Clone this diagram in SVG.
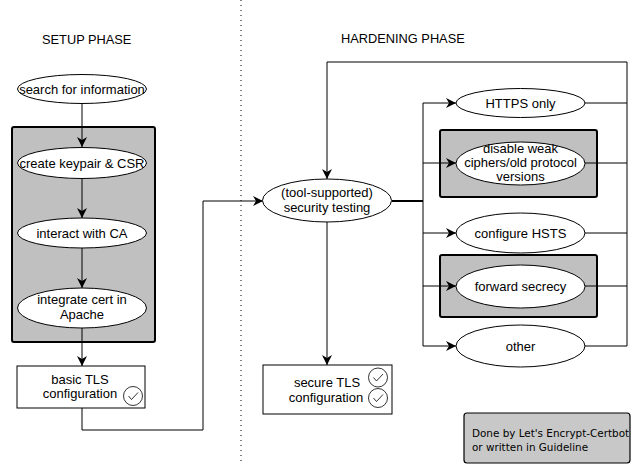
<svg xmlns="http://www.w3.org/2000/svg" width="632" height="465" viewBox="0 0 632 465">
<style>
text{font-family:"Liberation Sans",Arial,sans-serif;font-size:13px;fill:#000;text-anchor:middle}
.hdr{font-size:12.8px;text-anchor:start}
.leg{font-family:"DejaVu Sans",sans-serif;font-size:10.4px;text-anchor:start}
.ell{fill:#fff;stroke:#000;stroke-width:1}
.grp{fill:#c0c0c0;stroke:#000;stroke-width:2}
.box{fill:#fff;stroke:#000;stroke-width:1}
.chk{fill:#fff;stroke:#000;stroke-width:0.8}
.tick{fill:none;stroke:#000;stroke-width:0.8}
.c{fill:none;stroke:#000;stroke-width:1}
.c2{fill:none;stroke:#000;stroke-width:2}
.arr{marker-end:url(#ah)}
</style>
<defs>
<marker id="ah" viewBox="0 0 10 10" refX="10" refY="5" markerWidth="10" markerHeight="10" markerUnits="userSpaceOnUse" orient="auto">
<path d="M0,0 L10,5 L0,10 L3,5 Z" fill="#000"/>
</marker>
</defs>
<rect width="632" height="465" fill="#fff"/>
<line x1="241" y1="0" x2="241" y2="465" stroke="#000" stroke-width="1" stroke-dasharray="1,4"/>
<text class="hdr" x="42" y="44">SETUP PHASE</text>
<text class="hdr" x="341" y="43">HARDENING PHASE</text>

<g id="setup-group"><rect class="grp" x="12" y="127" width="143" height="215" rx="2"/></g>
<g id="disable-group"><rect class="grp" x="440" y="130" width="157" height="67" rx="2"/></g>
<g id="fs-group"><rect class="grp" x="440" y="255" width="157" height="62" rx="2"/></g>

<g id="connectors">
<path class="c arr" d="M82,103 V147"/>
<path class="c arr" d="M82,178 V218"/>
<path class="c arr" d="M82,248 V288"/>
<path class="c arr" d="M82,328 V366"/>
<path class="c arr" d="M82,408 V430 H203 V201 H263"/>
<path class="c arr" d="M627,346 V62 H327 V179"/>
<path class="c arr" d="M327,222 V365"/>
<path class="c2" d="M392,201 H423"/>
<path class="c" d="M423,103 V346"/>
<path class="c arr" d="M423,103 H456"/>
<path class="c arr" d="M423,163 H456"/>
<path class="c arr" d="M423,233 H456"/>
<path class="c arr" d="M423,286 H456"/>
<path class="c arr" d="M423,346 H456"/>
<path class="c" d="M585,103 H627"/>
<path class="c" d="M585,163 H627"/>
<path class="c" d="M585,233 H627"/>
<path class="c" d="M585,286 H627"/>
<path class="c" d="M585,346 H627"/>
</g>

<g id="search"><ellipse class="ell" cx="82" cy="89" rx="64.5" ry="14.5"/><text x="82" y="93.5">search for information</text></g>
<g id="keypair"><ellipse class="ell" cx="82" cy="163" rx="64.5" ry="15.5"/><text x="82" y="167.5">create keypair &amp; CSR</text></g>
<g id="ca"><ellipse class="ell" cx="82" cy="233" rx="64.5" ry="15"/><text x="82" y="237.5">interact with CA</text></g>
<g id="integrate"><ellipse class="ell" cx="82" cy="308" rx="64.5" ry="20"/><text x="82" y="304">integrate cert in</text><text x="82" y="318.5">Apache</text></g>
<g id="basic-tls"><rect class="box" x="17" y="366" width="128" height="42"/><text x="80" y="383.5">basic TLS</text><text x="80" y="398">configuration</text>
<circle class="chk" cx="133" cy="396" r="9.5"/><path class="tick" d="M128.5,396 L131.5,399.5 L138,392.5"/></g>

<g id="testing"><ellipse class="ell" cx="327" cy="200.5" rx="64.5" ry="21.5"/><text x="327" y="197">(tool-supported)</text><text x="327" y="212">security testing</text></g>
<g id="secure-tls"><rect class="box" x="263" y="365" width="129" height="49"/><text x="327" y="387">secure TLS</text><text x="326" y="402">configuration</text>
<circle class="chk" cx="378" cy="377.5" r="9.5"/><path class="tick" d="M373.5,377.5 L376.5,381 L383,374"/>
<circle class="chk" cx="378" cy="398" r="9.5"/><path class="tick" d="M373.5,398 L376.5,401.5 L383,394.5"/></g>

<g id="https"><ellipse class="ell" cx="520.5" cy="103" rx="64.5" ry="14.5"/><text x="520.5" y="107.5">HTTPS only</text></g>
<g id="ciphers"><ellipse class="ell" cx="520.5" cy="163.5" rx="64.5" ry="21.5"/><text x="520.5" y="152.5">disable weak</text><text x="520.5" y="166.5">ciphers/old protocol</text><text x="520.5" y="180.5">versions</text></g>
<g id="hsts"><ellipse class="ell" cx="520.5" cy="233" rx="64.5" ry="20"/><text x="520.5" y="237.5">configure HSTS</text></g>
<g id="fs"><ellipse class="ell" cx="520.5" cy="286.5" rx="64.5" ry="21.5"/><text x="520.5" y="291">forward secrecy</text></g>
<g id="other"><ellipse class="ell" cx="520.5" cy="346" rx="64.5" ry="21"/><text x="520.5" y="350.5">other</text></g>

<g id="legend"><rect x="464" y="413" width="166" height="50" rx="3" fill="#c8c8c8" stroke="#000" stroke-width="1.2"/>
<text class="leg" x="472" y="437">Done by Let's Encrypt-Certbot</text><text class="leg" x="472" y="450.5">or written in Guideline</text></g>
</svg>
